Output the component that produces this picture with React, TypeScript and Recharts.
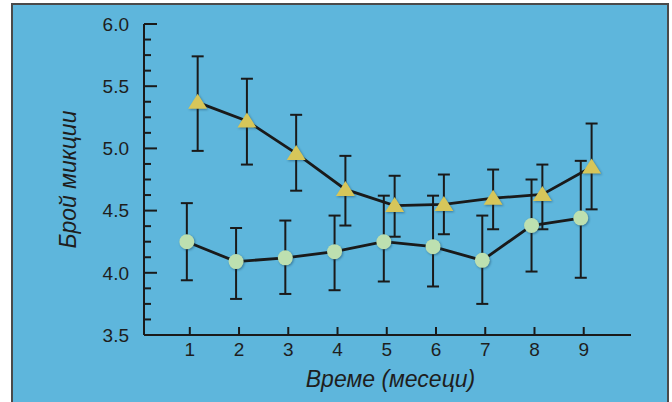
import * as React from "react"
import { LineChart, Line, XAxis, YAxis, ErrorBar, Label } from "recharts"

// months on the x axis
const months = [1, 2, 3, 4, 5, 6, 7, 8, 9]

// triangle series (upper line)
const triMean = [5.37, 5.22, 4.96, 4.67, 4.54, 4.55, 4.6, 4.63, 4.85]
const triHigh = [5.74, 5.56, 5.27, 4.94, 4.78, 4.79, 4.83, 4.87, 5.2]
const triLow = [4.98, 4.87, 4.66, 4.38, 4.29, 4.31, 4.35, 4.35, 4.51]

// circle series (lower line)
const circMean = [4.25, 4.09, 4.12, 4.17, 4.25, 4.21, 4.1, 4.38, 4.44]
const circHigh = [4.56, 4.36, 4.42, 4.46, 4.62, 4.62, 4.46, 4.75, 4.9]
const circLow = [3.94, 3.79, 3.83, 3.86, 3.93, 3.89, 3.75, 4.01, 3.96]

// points of the two groups are dodged a little around each month
const triShift = 0.16
const circShift = -0.06

const yTicks = [3.5, 3.625, 3.75, 3.875, 4.0, 4.125, 4.25, 4.375, 4.5, 4.625, 4.75, 4.875,
    5.0, 5.125, 5.25, 5.375, 5.5, 5.625, 5.75, 5.875, 6.0]
const xTicks = [1, 2, 3, 4, 5, 6, 7, 8, 9]

const INK = "#1a1a1a"
const TICK_FONT = "'Liberation Sans Narrow', 'Liberation Sans', Arial, sans-serif"
const TITLE_FONT = "'Liberation Sans', Arial, sans-serif"

const buildRows = (mean: number[], high: number[], low: number[], shift: number) =>
    months.map((m, i) => ({
        x: m + shift,
        y: mean[i],
        err: [mean[i] - low[i], high[i] - mean[i]],
    }))

const triRows = buildRows(triMean, triHigh, triLow, triShift)
const circRows = buildRows(circMean, circHigh, circLow, circShift)

const shadow = "drop-shadow(1px 1.5px 1px rgba(10, 50, 80, 0.45))"

const TriangleDot = (props: any) => {
    const { cx, cy, index } = props
    if (cx == null || cy == null) return null
    return (
        <path
            key={`t-${index}`}
            d={`M${cx},${cy - 8.5} L${cx + 9.5},${cy + 6.5} L${cx - 9.5},${cy + 6.5} Z`}
            fill="#d6c65a"
            style={{ filter: shadow }}
        />
    )
}

const CircleDot = (props: any) => {
    const { cx, cy, index } = props
    if (cx == null || cy == null) return null
    return <circle key={`c-${index}`} cx={cx} cy={cy} r={7.5} fill="#bde0b0" style={{ filter: shadow }} />
}

const YTick = (props: any) => {
    const { x, y, payload } = props
    const v = payload.value as number
    const major = Math.abs(v * 2 - Math.round(v * 2)) < 1e-6
    const axisX = x + 15
    return (
        <g>
            <line x1={axisX} x2={axisX + (major ? 13 : 7)} y1={y} y2={y} stroke={INK} strokeWidth={2} />
            {major && (
                <text x={x} y={y} dy="0.36em" textAnchor="end" fill="#1e1e1e" fontSize={19} fontFamily={TICK_FONT}>
                    {v.toFixed(1)}
                </text>
            )}
        </g>
    )
}

const XTick = (props: any) => {
    const { x, y, payload } = props
    const axisY = y - 8
    return (
        <g>
            <line x1={x} x2={x} y1={axisY} y2={axisY - 8} stroke={INK} strokeWidth={2} />
            <text x={x} y={y} dy="0.7em" textAnchor="middle" fill="#1e1e1e" fontSize={19} fontFamily={TICK_FONT}>
                {payload.value}
            </text>
        </g>
    )
}

export default function App() {
    return (
        <div style={{ position: "absolute", left: 0, top: 0, width: 672, height: 402, overflow: "hidden", background: "#fff" }}>
            <div
                style={{
                    position: "absolute",
                    left: 11,
                    top: 3,
                    width: 658,
                    height: 430,
                    boxSizing: "border-box",
                    background: "#5eb6dc",
                    border: "2px solid #4a4a4a",
                }}
            />
            <div style={{ position: "absolute", left: 0, top: 0 }}>
                <LineChart width={672} height={402} margin={{ top: 24, right: 41, bottom: 7, left: 0 }}>
                    <XAxis
                        type="number"
                        dataKey="x"
                        domain={[0.07, 9.96]}
                        ticks={xTicks}
                        interval={0}
                        height={60}
                        tickSize={0}
                        tickMargin={8}
                        tickLine={false}
                        axisLine={{ stroke: INK, strokeWidth: 2 }}
                        tick={<XTick />}
                        allowDataOverflow
                    >
                        <Label
                            value="Време (месеци)"
                            position="center"
                            dy={14}
                            dx={3}
                            style={{ fontSize: 23, fontStyle: "italic", fontFamily: TITLE_FONT, fill: "#1e1e1e" }}
                        />
                    </XAxis>
                    <YAxis
                        type="number"
                        domain={[3.5, 6.0]}
                        ticks={yTicks}
                        interval={0}
                        width={144}
                        tickSize={0}
                        tickMargin={15}
                        tickLine={false}
                        axisLine={{ stroke: INK, strokeWidth: 2 }}
                        tick={<YTick />}
                        allowDataOverflow
                    >
                        <Label
                            value="Брой микции"
                            angle={-90}
                            position="center"
                            dx={-4}
                            style={{ fontSize: 23, fontStyle: "italic", fontFamily: TITLE_FONT, fill: "#1e1e1e", textAnchor: "middle" }}
                        />
                    </YAxis>
                    <Line
                        data={circRows}
                        dataKey="y"
                        type="linear"
                        stroke={INK}
                        strokeWidth={2.8}
                        dot={<CircleDot />}
                        activeDot={false}
                        isAnimationActive={false}
                    >
                        <ErrorBar dataKey="err" direction="y" width={6} stroke={INK} strokeWidth={2} isAnimationActive={false} />
                    </Line>
                    <Line
                        data={triRows}
                        dataKey="y"
                        type="linear"
                        stroke={INK}
                        strokeWidth={2.8}
                        dot={<TriangleDot />}
                        activeDot={false}
                        isAnimationActive={false}
                    >
                        <ErrorBar dataKey="err" direction="y" width={6} stroke={INK} strokeWidth={2} isAnimationActive={false} />
                    </Line>
                </LineChart>
            </div>
        </div>
    )
}
